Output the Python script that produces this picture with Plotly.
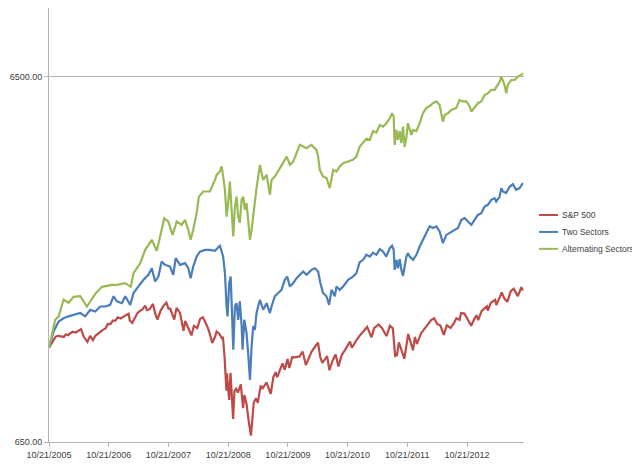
import plotly.graph_objects as go

# S&P 500 index level
sp_dates = ["2005-10-21", "2005-11-01", "2005-11-15", "2005-12-01", "2005-12-15", "2006-01-03", "2006-01-20",
            "2006-02-01", "2006-02-15", "2006-03-01", "2006-03-15", "2006-04-03", "2006-04-20", "2006-05-05",
            "2006-05-22", "2006-06-13", "2006-06-30", "2006-07-17", "2006-08-01", "2006-08-15", "2006-09-01",
            "2006-09-15", "2006-10-02", "2006-10-16", "2006-11-01", "2006-11-15", "2006-12-01", "2006-12-15",
            "2007-01-03", "2007-01-16", "2007-02-01", "2007-02-20", "2007-02-27", "2007-03-14", "2007-03-30",
            "2007-04-16", "2007-05-01", "2007-05-15", "2007-06-01", "2007-06-12", "2007-06-29", "2007-07-19",
            "2007-08-01", "2007-08-15", "2007-09-04", "2007-09-19", "2007-10-09", "2007-10-22", "2007-11-01",
            "2007-11-26", "2007-12-10", "2007-12-31", "2008-01-22", "2008-02-01", "2008-02-15", "2008-03-10",
            "2008-03-25", "2008-04-15", "2008-05-02", "2008-05-19", "2008-06-02", "2008-06-18", "2008-07-01",
            "2008-07-15", "2008-08-01", "2008-08-11", "2008-08-29", "2008-09-12", "2008-09-19", "2008-09-29",
            "2008-10-10", "2008-10-13", "2008-10-27", "2008-11-04", "2008-11-20", "2008-11-28", "2008-12-08",
            "2008-12-19", "2009-01-06", "2009-01-20", "2009-01-28", "2009-02-10", "2009-02-23", "2009-03-09",
            "2009-03-26", "2009-04-09", "2009-04-20", "2009-05-08", "2009-05-18", "2009-06-12", "2009-07-08",
            "2009-07-24", "2009-08-07", "2009-08-17", "2009-09-18", "2009-10-02", "2009-10-19", "2009-10-30",
            "2009-11-16", "2009-12-01", "2009-12-31", "2010-01-19", "2010-02-08", "2010-02-25", "2010-03-15",
            "2010-04-23", "2010-05-07", "2010-05-20", "2010-06-18", "2010-07-02", "2010-07-20", "2010-08-09",
            "2010-08-26", "2010-09-15", "2010-10-05", "2010-11-05", "2010-11-16", "2010-12-15", "2011-01-03",
            "2011-02-18", "2011-03-16", "2011-04-01", "2011-04-29", "2011-05-20", "2011-06-16", "2011-07-07",
            "2011-07-25", "2011-08-08", "2011-08-19", "2011-08-31", "2011-09-22", "2011-10-03", "2011-10-27",
            "2011-11-25", "2011-12-07", "2011-12-19", "2012-01-13", "2012-02-15", "2012-03-15", "2012-04-02",
            "2012-04-23", "2012-05-10", "2012-06-01", "2012-06-19", "2012-07-12", "2012-08-01", "2012-08-17",
            "2012-09-05", "2012-09-14", "2012-10-05", "2012-10-23", "2012-11-15", "2012-12-03", "2012-12-18",
            "2012-12-28", "2013-01-18", "2013-02-19", "2013-02-25", "2013-03-14", "2013-04-11", "2013-04-18",
            "2013-05-21", "2013-06-05", "2013-06-24", "2013-07-15", "2013-08-02", "2013-08-27", "2013-09-10",
            "2013-09-18", "2013-09-27"]
sp_values = [1178, 1203, 1229, 1264, 1270, 1268, 1261,
             1282, 1275, 1291, 1303, 1297, 1311, 1325,
             1262, 1223, 1270, 1236, 1270, 1285, 1311,
             1319, 1331, 1369, 1367, 1397, 1397, 1427,
             1417, 1431, 1445, 1460, 1399, 1378, 1421,
             1468, 1487, 1501, 1536, 1493, 1503, 1553,
             1465, 1406, 1489, 1529, 1565, 1506, 1509,
             1407, 1515, 1468, 1310, 1395, 1349, 1273,
             1352, 1334, 1413, 1427, 1385, 1338, 1284,
             1214, 1260, 1305, 1283, 1252, 1255, 1106,
             899, 1003, 848, 1005, 752, 896, 909,
             888, 935, 805, 874, 827, 743, 677,
             832, 856, 832, 929, 909, 946, 880,
             979, 1010, 979, 1068, 1025, 1097, 1036,
             1110, 1109, 1115, 1150, 1056, 1102, 1150,
             1217, 1110, 1071, 1117, 1022, 1083, 1128,
             1047, 1126, 1160, 1225, 1178, 1236, 1271,
             1343, 1257, 1332, 1364, 1333, 1268, 1353,
             1331, 1119, 1124, 1219, 1130, 1099, 1285,
             1159, 1261, 1206, 1289, 1344, 1403, 1419,
             1366, 1357, 1278, 1357, 1334, 1376, 1418,
             1404, 1466, 1461, 1413, 1353, 1409, 1446,
             1402, 1486, 1530, 1488, 1563, 1593, 1541,
             1669, 1609, 1573, 1683, 1709, 1631, 1683,
             1725, 1691]

# Two Sectors strategy
two_dates = ["2005-10-21", "2005-11-18", "2005-12-19", "2006-01-18", "2006-02-18", "2006-03-31", "2006-04-30",
             "2006-05-31", "2006-06-30", "2006-07-31", "2006-08-30", "2006-09-30", "2006-10-30", "2006-11-20",
             "2006-12-10", "2007-01-10", "2007-01-30", "2007-03-02", "2007-03-22", "2007-04-21", "2007-05-22",
             "2007-06-21", "2007-07-12", "2007-08-01", "2007-08-21", "2007-09-10", "2007-09-30", "2007-10-31",
             "2007-11-20", "2007-12-05", "2007-12-31", "2008-01-31", "2008-02-20", "2008-03-05", "2008-03-21",
             "2008-04-11", "2008-05-01", "2008-06-01", "2008-07-01", "2008-08-01", "2008-08-31", "2008-09-20",
             "2008-10-01", "2008-10-11", "2008-10-17", "2008-10-27", "2008-11-05", "2008-11-14", "2008-11-21",
             "2008-12-01", "2008-12-11", "2008-12-21", "2008-12-31", "2009-01-11", "2009-01-17", "2009-01-27",
             "2009-02-10", "2009-02-20", "2009-03-03", "2009-03-13", "2009-03-23", "2009-04-02", "2009-04-12",
             "2009-05-03", "2009-05-23", "2009-06-13", "2009-07-03", "2009-07-13", "2009-08-02", "2009-08-23",
             "2009-09-12", "2009-10-02", "2009-10-17", "2009-11-02", "2009-11-22", "2009-12-13", "2010-01-02",
             "2010-01-22", "2010-02-12", "2010-03-14", "2010-04-04", "2010-04-24", "2010-05-08", "2010-05-24",
             "2010-06-14", "2010-06-30", "2010-07-15", "2010-08-04", "2010-08-14", "2010-09-03", "2010-09-24",
             "2010-10-24", "2010-11-23", "2010-12-14", "2011-01-03", "2011-01-24", "2011-02-13", "2011-03-06",
             "2011-03-26", "2011-04-15", "2011-05-06", "2011-05-26", "2011-06-15", "2011-07-06", "2011-07-20",
             "2011-07-30", "2011-08-05", "2011-08-16", "2011-08-25", "2011-09-05", "2011-09-15", "2011-09-25",
             "2011-10-05", "2011-10-16", "2011-10-25", "2011-11-05", "2011-11-25", "2011-12-16", "2012-01-05",
             "2012-01-25", "2012-02-15", "2012-03-06", "2012-03-26", "2012-04-16", "2012-05-06", "2012-05-26",
             "2012-06-16", "2012-07-06", "2012-08-06", "2012-08-26", "2012-09-16", "2012-10-06", "2012-10-26",
             "2012-11-16", "2012-12-06", "2012-12-26", "2013-01-16", "2013-02-05", "2013-02-25", "2013-03-18",
             "2013-04-07", "2013-04-17", "2013-05-08", "2013-05-18", "2013-05-28", "2013-06-17", "2013-07-08",
             "2013-07-28", "2013-08-17", "2013-09-07", "2013-09-27"]
two_values = [1178, 1306, 1390, 1418, 1436, 1450, 1466,
              1436, 1497, 1481, 1528, 1528, 1544, 1630,
              1578, 1560, 1630, 1544, 1664, 1734, 1808,
              1866, 1945, 1789, 1845, 2030, 1987, 1966,
              1866, 2073, 1987, 2008, 1945, 1827, 1966,
              2094, 2160, 2184, 2184, 2170, 2241, 2094,
              1885, 1528, 1436, 1770, 1845, 1436, 1163,
              1528, 1560, 1405, 1578, 1351, 1163, 1405,
              1293, 1138, 962, 1188, 1351, 1319, 1466,
              1594, 1497, 1560, 1466, 1528, 1630, 1664,
              1697, 1808, 1845, 1734, 1770, 1827, 1866,
              1905, 1866, 1925, 1945, 1905, 1770, 1664,
              1630, 1544, 1697, 1630, 1734, 1697, 1734,
              1808, 1845, 1885, 2020, 2051, 2117, 2094,
              2146, 2117, 2193, 2160, 2094, 2207, 2241,
              2184, 1925, 2051, 1945, 2060, 1925, 1853,
              1966, 2094, 2137, 2094, 2051, 2117, 2231,
              2327, 2453, 2533, 2506, 2533, 2453, 2279,
              2400, 2426, 2478, 2506, 2639, 2669, 2611,
              2557, 2639, 2723, 2752, 2870, 2901, 2994,
              3025, 2963, 3055, 3224, 3156, 3126, 3251,
              3306, 3189, 3224, 3326]

# Alternating Sectors strategy
alt_dates = ["2005-10-21", "2005-11-28", "2005-12-19", "2006-01-18", "2006-02-18", "2006-03-20", "2006-04-30",
             "2006-06-10", "2006-07-31", "2006-09-10", "2006-11-10", "2006-12-10", "2007-01-30", "2007-03-05",
             "2007-03-22", "2007-05-02", "2007-06-01", "2007-07-12", "2007-08-11", "2007-08-31", "2007-09-26",
             "2007-10-21", "2007-11-16", "2007-12-11", "2008-01-10", "2008-01-31", "2008-02-20", "2008-03-05",
             "2008-03-21", "2008-04-11", "2008-04-25", "2008-05-21", "2008-07-01", "2008-08-01", "2008-08-11",
             "2008-08-31", "2008-09-11", "2008-09-20", "2008-10-01", "2008-10-11", "2008-10-21", "2008-10-31",
             "2008-11-11", "2008-11-21", "2008-12-01", "2008-12-11", "2008-12-21", "2008-12-31", "2009-01-11",
             "2009-01-21", "2009-01-31", "2009-02-10", "2009-02-20", "2009-03-03", "2009-03-13", "2009-03-23",
             "2009-04-02", "2009-04-12", "2009-04-23", "2009-05-03", "2009-05-13", "2009-05-23", "2009-06-13",
             "2009-07-03", "2009-07-13", "2009-08-02", "2009-09-02", "2009-09-22", "2009-10-14", "2009-11-02",
             "2009-11-22", "2009-12-13", "2010-01-02", "2010-01-22", "2010-02-12", "2010-03-14", "2010-04-14",
             "2010-04-24", "2010-05-04", "2010-05-24", "2010-06-14", "2010-07-04", "2010-07-25", "2010-08-14",
             "2010-09-03", "2010-09-24", "2010-10-14", "2010-11-23", "2010-12-14", "2011-01-03", "2011-02-13",
             "2011-03-06", "2011-03-26", "2011-04-15", "2011-05-06", "2011-05-26", "2011-06-15", "2011-07-06",
             "2011-07-20", "2011-07-30", "2011-08-05", "2011-08-16", "2011-08-25", "2011-09-05", "2011-09-15",
             "2011-09-25", "2011-10-05", "2011-10-16", "2011-10-25", "2011-11-05", "2011-11-15", "2011-11-25",
             "2011-12-16", "2012-01-05", "2012-01-25", "2012-02-15", "2012-03-06", "2012-03-26", "2012-04-16",
             "2012-05-06", "2012-05-26", "2012-06-06", "2012-06-26", "2012-07-16", "2012-08-16", "2012-09-05",
             "2012-09-25", "2012-10-16", "2012-11-05", "2012-11-16", "2012-12-06", "2012-12-26", "2013-01-16",
             "2013-02-05", "2013-02-25", "2013-03-18", "2013-04-07", "2013-04-17", "2013-05-08", "2013-05-18",
             "2013-05-28", "2013-06-07", "2013-06-17", "2013-06-27", "2013-07-18", "2013-08-07", "2013-08-27",
             "2013-09-17", "2013-09-27"]
alt_values = [1178, 1405, 1436, 1594, 1564, 1624, 1630,
              1528, 1655, 1730, 1752, 1752, 1770, 1730,
              1885, 2008, 2184, 2327, 2170, 2376, 2667,
              2611, 2400, 2611, 2557, 2639, 2478, 2327,
              2478, 2753, 3055, 3156, 3156, 3396, 3505,
              3580, 3697, 3470, 3189, 2694, 2935, 3358,
              2870, 2376, 2870, 3055, 2694, 2590, 2994,
              3055, 2811, 2935, 2639, 2327, 2478, 2723,
              2870, 3224, 3470, 3733, 3546, 3396, 3505,
              3090, 3396, 3470, 3656, 3773, 3933, 3733,
              3805, 4019, 4235, 4190, 4147, 4235, 4104,
              3933, 3617, 3470, 3436, 3224, 3617, 3580,
              3697, 3773, 3805, 3853, 3933, 4190, 4404,
              4370, 4621, 4575, 4802, 4751, 4854, 5008,
              5169, 5060, 4235, 4654, 4370, 4621, 4280,
              4751, 4175, 4450, 4854, 4700, 4510, 4654,
              4621, 4854, 5169, 5347, 5406, 5508, 5570,
              5448, 4905, 5116, 5169, 5280, 5347, 5621,
              5570, 5570, 5406, 5222, 5347, 5508, 5570,
              5801, 5860, 5990, 5990, 6101, 6298, 6512,
              6377, 6181, 5860, 6181, 6377, 6377, 6512,
              6583, 6658]

series_names = ["S&P 500", "Two Sectors", "Alternating Sectors"]
series_colors = ["#BE4B48", "#4A7EBB", "#98B954"]

x_ticks = ["2005-10-21", "2006-10-21", "2007-10-21", "2008-10-21",
           "2009-10-21", "2010-10-21", "2011-10-21", "2012-10-21"]
x_labels = ["10/21/2005", "10/21/2006", "10/21/2007", "10/21/2008",
            "10/21/2009", "10/21/2010", "10/21/2011", "10/21/2012"]
y_ticks = [650, 6500]
y_labels = ["650.00", "6500.00"]

fig = go.Figure()
series = [(sp_dates, sp_values), (two_dates, two_values), (alt_dates, alt_values)]
for (xs, ys), name, color in zip(series, series_names, series_colors):
    fig.add_trace(go.Scatter(x=xs, y=ys, mode="lines", name=name,
                             line=dict(color=color, width=2.2)))

# legend drawn by hand, to the right of the plot area (short Excel-style keys)
legend_y = [0.523, 0.484, 0.445]
for name, color, ly in zip(series_names, series_colors, legend_y):
    fig.add_shape(type="line", xref="paper", yref="paper",
                  x0=1.0316, x1=1.0716, y0=ly, y1=ly,
                  line=dict(color=color, width=2))
    fig.add_annotation(xref="paper", yref="paper", x=1.0758, y=ly,
                       text=name, showarrow=False, xanchor="left", yanchor="middle",
                       font=dict(size=8.5, color="#404040"))

axis_grey = "#B3B3B3"
fig.update_layout(
    width=632, height=458,
    margin=dict(l=41, r=116, t=0, b=24),
    paper_bgcolor="white", plot_bgcolor="white",
    font=dict(family="Liberation Sans", size=9, color="#404040"),
    showlegend=False,
    xaxis=dict(type="date", range=["2005-10-21", "2013-10-04"],
               tickvals=x_ticks, ticktext=x_labels,
               showgrid=False, zeroline=False,
               showline=True, linecolor=axis_grey, linewidth=1,
               ticks="outside", ticklen=4, tickcolor=axis_grey),
    yaxis=dict(type="log", range=[2.8129, 4.0018],
               tickvals=y_ticks, ticktext=y_labels,
               showgrid=True, gridcolor=axis_grey, gridwidth=1,
               zeroline=False,
               showline=True, linecolor=axis_grey, linewidth=1,
               ticks="outside", ticklen=4, tickcolor=axis_grey),
)

fig.write_html("out.html")
